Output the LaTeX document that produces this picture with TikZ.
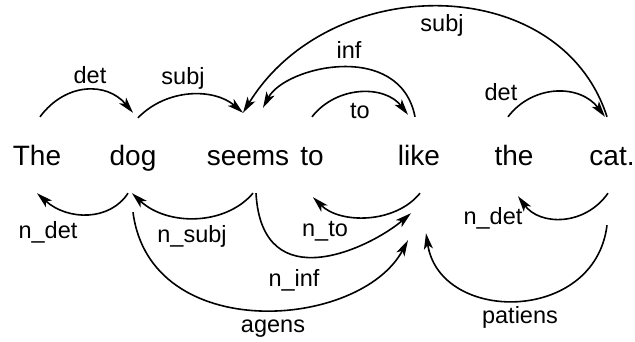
\documentclass[tikz,border=0pt]{standalone}
\usepackage{fontspec}
\setmainfont{Liberation Sans}
\usetikzlibrary{arrows.meta,calc}
\tikzset{
  word/.style={anchor=base,inner sep=0pt,text height=48pt,text depth=28pt,font=\fontsize{28}{32}\selectfont},
  lbl/.style={anchor=base,inner sep=0pt,font=\fontsize{23.5}{27}\selectfont},
  dep/.style={line width=1.6pt,-{Stealth[length=16pt,width=9pt,inset=4pt]}}
}
\begin{document}
\begin{tikzpicture}[x=1pt,y=-1pt]
\useasboundingbox (0,0) rectangle (635,341);
% words
\node[word] (wThe)   at (37,165)  {The};
\node[word] (wdog)   at (133,165) {dog};
\node[word] (wseems) at (248,165) {seems};
\node[word] (wto)    at (312,165) {to};
\node[word] (wlike)  at (419,165) {like};
\node[word] (wthe)   at (514,165) {the};
\node[word] (wcat)   at (612,165) {cat.};
% arcs above
\draw[dep] ($(wThe.north)+(3,0)$) .. controls (66,82) and (107,82) .. ($(wdog.north)+(0,-4)$);
\draw[dep] ($(wdog.north)+(5,1)$) .. controls (167,88) and (214,88) .. ($(wseems.north)+(-5,-4)$);
\draw[dep] ($(wcat.north)+(-5,0)$) .. controls (560,-29) and (330,-29) .. ($(wseems.north)+(-5,-4)$);
\draw[dep] ($(wlike.north)+(-4,0)$) .. controls (400,40) and (285,66) .. ($(wseems.north)+(15,-9)$);
\draw[dep] (wto.north) .. controls (337,85) and (385,85) .. ($(wlike.north)+(-11,-2)$);
\draw[dep] ($(wthe.north)+(-6,0)$) .. controls (533,84) and (580,84) .. ($(wcat.north)+(-7,0)$);
% arcs below
\draw[dep] ($(wdog.south)+(-5,0)$) .. controls (110,221) and (68,221) .. (wThe.south);
\draw[dep] ($(wseems.south)+(5,0)$) .. controls (225,226) and (167,226) .. ($(wdog.south)+(-1,0)$);
\draw[dep] ($(wdog.south)+(0,19)$) .. controls (150,345) and (360,330) .. ($(wlike.south)+(-11,47)$);
\draw[dep] ($(wseems.south)+(8,0)$) .. controls (262,300) and (370,248) .. ($(wlike.south)+(-8,20)$);
\draw[dep] ($(wlike.south)+(1,0)$) .. controls (395,224) and (340,224) .. ($(wto.south)+(1,4)$);
\draw[dep] ($(wcat.south)+(-4,0)$) .. controls (585,226) and (540,226) .. ($(wthe.south)+(4,3)$);
\draw[dep] ($(wcat.south)+(-5,32)$) .. controls (595,324) and (440,324) .. ($(wlike.south)+(7,40)$);
% labels
\node[lbl] (l1)  at (90,83)   {det};
\node[lbl] (l2)  at (183,84)  {subj};
\node[lbl] (l3)  at (442,31)  {subj};
\node[lbl] (l4)  at (349,58)  {inf};
\node[lbl] (l5)  at (360,118) {to};
\node[lbl] (l6)  at (501,100) {det};
\node[lbl] (l7)  at (48,238)  {n\_det};
\node[lbl] (l8)  at (192,242) {n\_subj};
\node[lbl] (l9)  at (325,236) {n\_to};
\node[lbl] (l10) at (294,286) {n\_inf};
\node[lbl] (l11) at (273,332) {agens};
\node[lbl] (l12) at (493,224) {n\_det};
\node[lbl] (l13) at (520,323) {patiens};
\end{tikzpicture}
\end{document}
